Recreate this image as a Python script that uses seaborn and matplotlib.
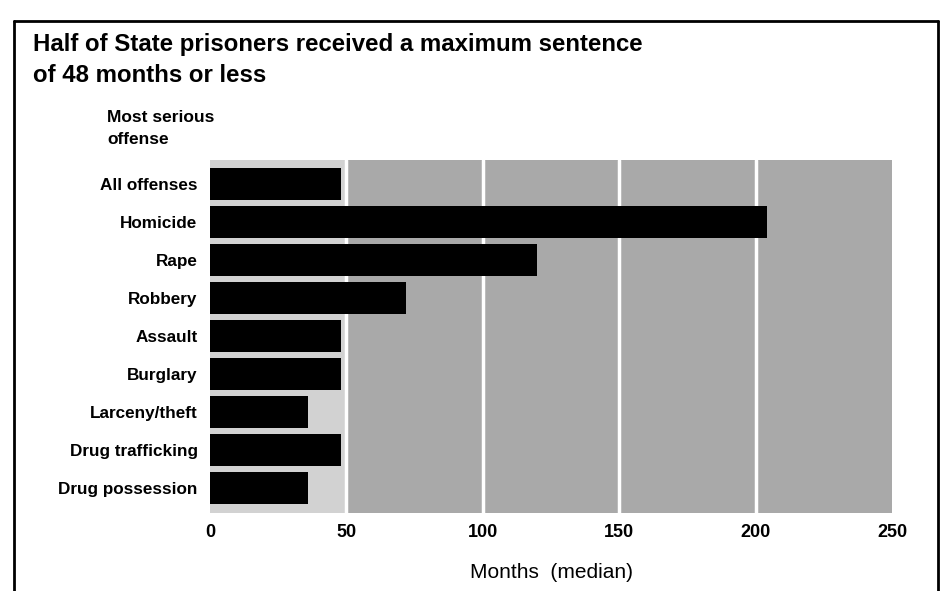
import pandas as pd
import matplotlib.pyplot as plt
from matplotlib.lines import Line2D
import seaborn as sns

# Data
offenses = ["All offenses", "Homicide", "Rape", "Robbery", "Assault",
            "Burglary", "Larceny/theft", "Drug trafficking", "Drug possession"]
months = [48, 204, 120, 72, 48, 48, 36, 48, 36]
x_ticks = [0, 50, 100, 150, 200, 250]

df = pd.DataFrame({"Offense": offenses, "Months": months})

sns.set_style("white")
plt.rcParams["font.family"] = ["Liberation Sans", "DejaVu Sans"]
plt.rcParams["text.color"] = "black"
plt.rcParams["xtick.color"] = "black"
plt.rcParams["ytick.color"] = "black"
plt.rcParams["axes.labelcolor"] = "black"

fig = plt.figure(figsize=(9.48, 5.91), dpi=100)
ax = fig.add_axes([210 / 948, 1 - 513 / 591, 682 / 948, 353 / 591])

# stippled background: lighter up to 50, darker beyond
ax.axvspan(0, 50, color="#d2d2d2", zorder=0, lw=0)
ax.axvspan(50, 250, color="#a9a9a9", zorder=0, lw=0)
for v in x_ticks[1:-1]:
    ax.axvline(v, color="white", lw=2.5, zorder=1)

sns.barplot(data=df, x="Months", y="Offense", color="black", saturation=1,
            width=0.84, linewidth=0, ax=ax, zorder=2)

ax.set_xlim(0, 250)
ax.set_ylim(8.66, -0.63)
ax.set_xticks(x_ticks)
ax.set_xticklabels([str(t) for t in x_ticks], fontsize=13, fontweight="bold")
ax.tick_params(axis="x", length=0, pad=8)
ax.tick_params(axis="y", length=0, pad=9, labelsize=12.3)
for lab in ax.get_yticklabels():
    lab.set_fontweight("bold")
ax.set_ylabel("")
ax.set_xlabel("Months  (median)", fontsize=15, labelpad=16)
sns.despine(ax=ax, left=True, bottom=True)

# titles
fig.text(33 / 948, 1 - 45 / 591, "Half of State prisoners received a maximum sentence",
         fontsize=17.3, fontweight="bold", va="center", ha="left")
fig.text(33 / 948, 1 - 76 / 591, "of 48 months or less",
         fontsize=17.3, fontweight="bold", va="center", ha="left")
fig.text(107 / 948, 1 - 118 / 591, "Most serious", fontsize=12.5, fontweight="bold",
         va="center", ha="left")
fig.text(107 / 948, 1 - 140 / 591, "offense", fontsize=12.5, fontweight="bold",
         va="center", ha="left")

# frame around the figure
y_top = 1 - 21 / 591
fig.add_artist(Line2D([14 / 948, 938 / 948], [y_top, y_top], color="black", lw=2))
fig.add_artist(Line2D([14 / 948, 14 / 948], [0, y_top], color="black", lw=2))
fig.add_artist(Line2D([938 / 948, 938 / 948], [0, y_top], color="black", lw=2))

plt.savefig("out.png", dpi=100)
